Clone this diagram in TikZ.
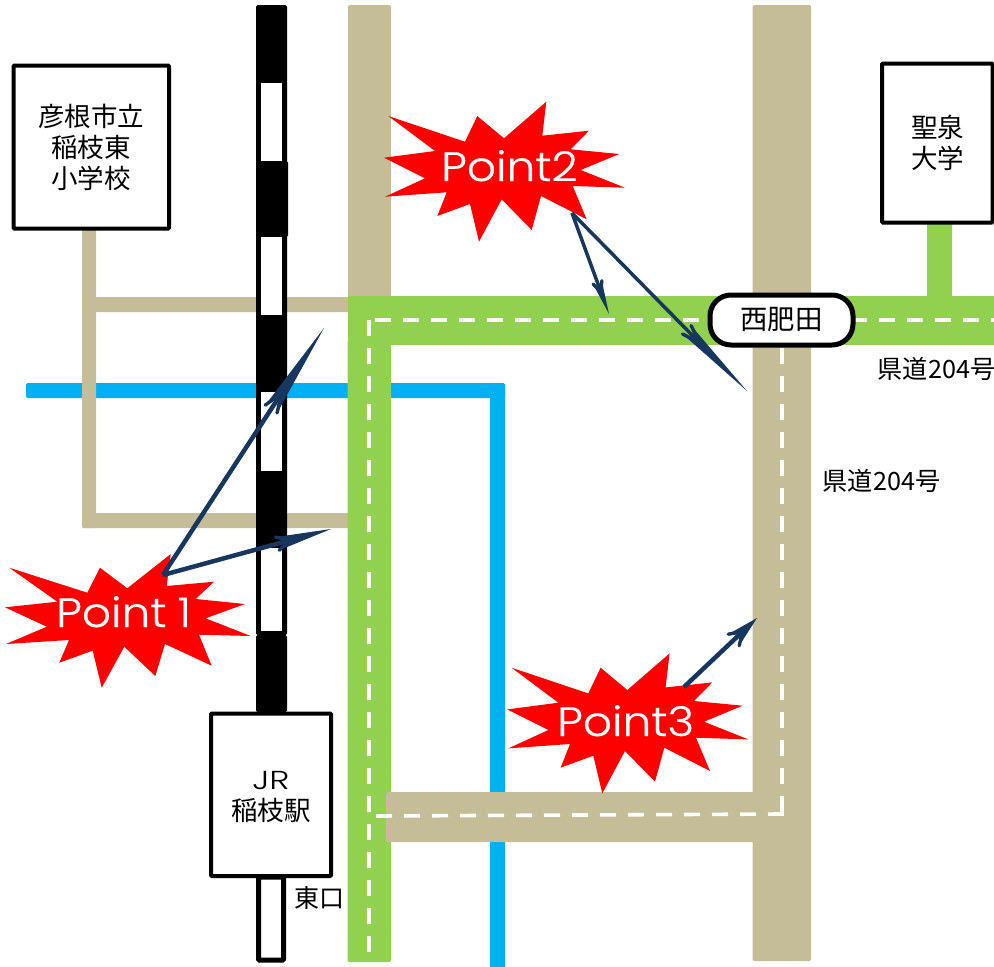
\documentclass[tikz,border=0pt]{standalone}
\usepackage{fontspec}
\setmainfont{Noto Sans CJK JP}
\newfontfamily\latinpt[FakeStretch=1.11,WordSpace=0.9,FakeBold=0.5]{Poppins Light}
\newfontfamily\latinjr[FakeStretch=1.32]{Poppins Light}
\usetikzlibrary{calc}
\definecolor{roadtan}{HTML}{C4BD97}
\definecolor{roadgreen}{HTML}{92D050}
\definecolor{riverblue}{HTML}{00B0F0}
\definecolor{navy}{HTML}{17375E}
% start, tip, head length, barb angle, notch distance, shaft width
\newcommand{\spear}[6]{%
  \draw[draw=navy,line width=#6] (#1) -- ($(#2)!#5pt!(#1)$);
  \fill[navy] (#2) -- ($(#2)!#3pt!#4:(#1)$) -- ($(#2)!#5pt!(#1)$) -- ($(#2)!#3pt!-#4:(#1)$) -- cycle;
  \draw[draw=navy,line width=3.4pt,line cap=round,line join=round] ($(#2)!#3pt!#4:(#1)$) -- ($(#2)!#5pt!(#1)$) -- ($(#2)!#3pt!-#4:(#1)$);
}
\tikzset{
  tanroad/.style={fill=roadtan,rounded corners=1.5pt},
  greenroad/.style={fill=roadgreen,rounded corners=1.5pt},
  river/.style={fill=riverblue,rounded corners=1.5pt},
  railblack/.style={fill=black,rounded corners=1.5pt},
  railwhite/.style={fill=white},
  centre/.style={draw=white,line width=3.6pt,dash pattern=on 16pt off 12pt},
  labelbox/.style={draw=black,line width=4pt,fill=white,rounded corners=1pt,inner sep=0pt},
  cjklabel/.style={inner sep=0pt,align=center,font=\fontsize{26.5}{31}\selectfont},
  prefroad/.style={inner sep=0pt,font=\fontsize{25.2}{30}\selectfont},
  burst/.style={fill=red},
  pointtext/.style={inner sep=0pt,anchor=base west,text=white,font=\latinpt\fontsize{41}{41}\selectfont},
}
\begin{document}
\begin{tikzpicture}[x=1pt,y=-1pt]
\useasboundingbox (0,0) rectangle (994,967);
% river
\fill[river] (26,383) rectangle (505,398);
\fill[river] (490,383) rectangle (505,975);
% thin tan lanes
\fill[tanroad] (82,228) rectangle (96,528);
\fill[tanroad] (82,297) rectangle (350,312);
\fill[tanroad] (82,513) rectangle (350,528);
% tan roads
\fill[tanroad] (348,5) rectangle (391,298);
\fill[tanroad] (752.5,5) rectangle (811,961);
% green roads
\fill[greenroad] (347.5,340) rectangle (391,962);
\fill[roadgreen] (348,296) rectangle (1000,345);
\fill[greenroad] (927,222) rectangle (952,300);
\fill[tanroad] (386,792) rectangle (770,842);
% centre lines
\draw[centre] (369,952) -- (369,320);
\draw[centre] (375,320) -- (994,320);
\draw[centre] (376,816) -- (782,814) -- (782,812);
\draw[centre] (782,812) -- (782,348);
% railway
\fill[railblack] (256,5) rectangle (287,82);
\fill[railblack] (256,80) rectangle (287,635);
\fill[railblack] (257,161) rectangle (288,237);
\fill[railwhite] (261,83) rectangle (282,161);
\fill[railwhite] (261,237) rectangle (282,315);
\fill[railwhite] (261,392) rectangle (282,471);
\fill[railwhite] (261,548) rectangle (282,631);
\fill[railblack] (256,635) rectangle (287,712);
% lower platform
\draw[draw=black,line width=5pt,fill=white,rounded corners=1pt] (258.5,877) rectangle (283.5,960);
% label boxes
\draw[labelbox] (13.5,65.5) rectangle (169,228.5);
\node[cjklabel] (school) at (91,147) {彦根市立\\稲枝東\\小学校};
\draw[labelbox] (882,63.5) rectangle (992.5,222.5);
\node[cjklabel] (univ) at (937.5,143) {聖泉\\大学};
\draw[labelbox] (211,713.5) rectangle (331,876);
\node[cjklabel] (jr) at (271,797) {{\latinjr\fontsize{26}{31}\selectfont JR}\\稲枝駅};
\node[cjklabel,font=\fontsize{25}{31}\selectfont] (east) at (319,898) {東口};
% station
\node[draw=black,line width=5pt,fill=white,rounded corners=21pt,minimum width=143pt,minimum height=50pt,inner sep=0pt,font=\fontsize{27.4}{27}\selectfont] (station) at (781.5,320) {西肥田};
\node[prefroad] (pref1) at (936.5,369) {県道204号};
\node[prefroad] (pref2) at (881.5,481) {県道204号};
% bursts
\fill[burst] (9.3,567.7) -- (87.3,592.7) -- (100,567.7) -- (127.3,588.3) -- (170.7,554) -- (166.7,586) -- (214,581.7) -- (195.7,599) -- (245,604) -- (205.7,618.3) -- (250.7,636) -- (199,634.7) -- (211.7,665.7) -- (165,644) -- (155.3,676) -- (124.3,646.7) -- (101.7,687.7) -- (92.7,650.7) -- (59.3,662.7) -- (69,640) -- (6,644) -- (46.7,626.7) -- (5,607.3) -- (57.3,601.7) -- cycle;
\foreach \dx/\dy in {0/0,123.3/551.7}{
\fill[burst,shift={(\dx,\dy)}] (388.3,116) -- (465,141.7) -- (477.3,116) -- (504,138.3) -- (546.3,101.7) -- (542.3,135.7) -- (589,130.7) -- (570.7,149.3) -- (619.3,154) -- (580.7,170) -- (625,187.7) -- (572.7,186) -- (586.7,219.3) -- (541,196) -- (531.7,230) -- (501.7,199.3) -- (479,241.7) -- (470,204) -- (437.3,216) -- (446.7,192.3) -- (385,196.7) -- (425,178.3) -- (384,157.7) -- (435,151) -- cycle;
}
\node[pointtext] (p1) at (56,627) {Point 1};
\node[pointtext] (p2) at (441,181) {Point2};
\node[pointtext] (p3) at (557,736) {Point3};
% arrows
\coordinate (a1) at (163,575);
\coordinate (t1) at (324,328);
\coordinate (t2) at (331,529);
\coordinate (a3) at (684,687);
\coordinate (t3) at (757,618);
\coordinate (a4) at (572,213);
\coordinate (t4) at (609,314);
\coordinate (t5) at (747,391);
\spear{a1}{t1}{97}{4.2}{78}{4.5pt}
\spear{a1}{t2}{56}{7}{42}{4.5pt}
\spear{a3}{t3}{33}{14}{20}{4.5pt}
\spear{a4}{t4}{34}{8}{24}{3.5pt}
\spear{a4}{t5}{86}{4}{68}{3.5pt}
\end{tikzpicture}
\end{document}
